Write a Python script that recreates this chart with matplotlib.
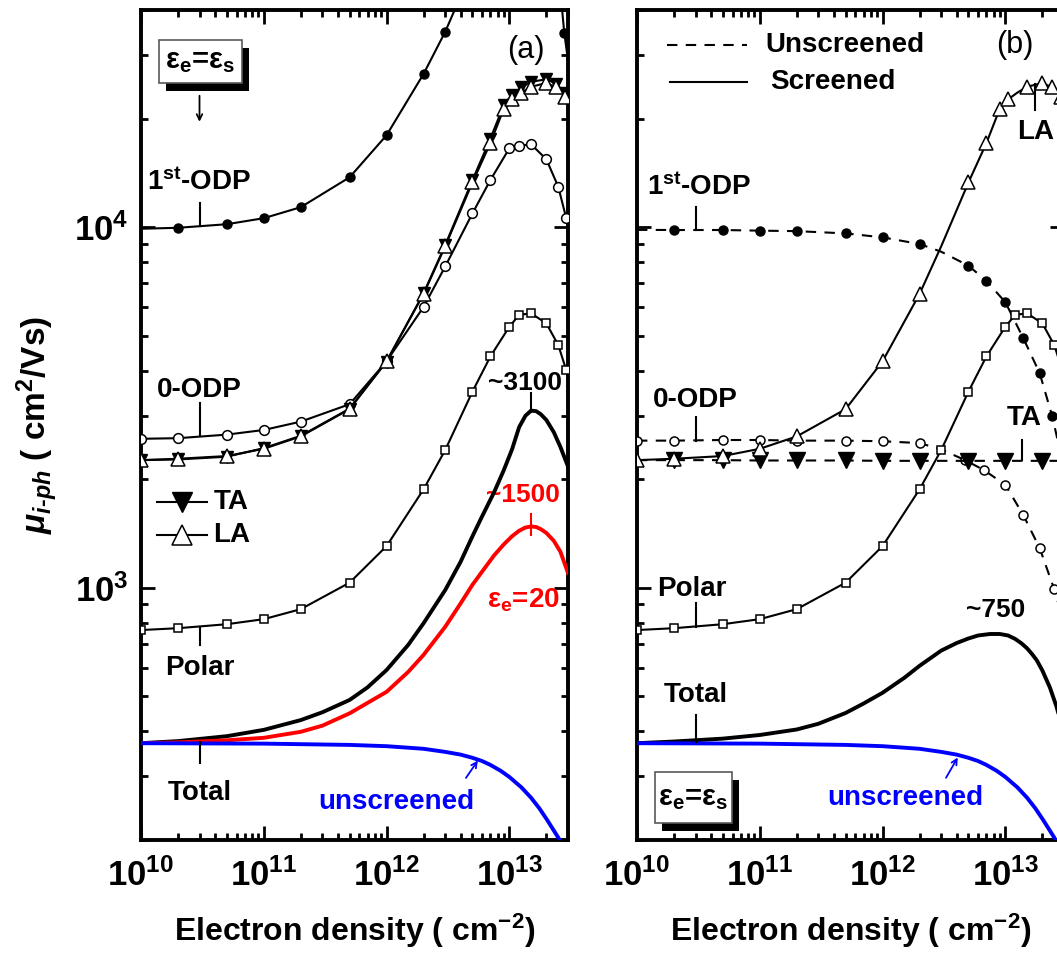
import numpy as np
import matplotlib
matplotlib.use('Agg')
import matplotlib.pyplot as plt
from matplotlib.patches import Rectangle
from matplotlib.ticker import LogLocator, FuncFormatter, NullFormatter

plt.rcParams['font.family'] = ['Liberation Sans', 'DejaVu Sans']
plt.rcParams['font.weight'] = 'bold'
plt.rcParams['axes.labelweight'] = 'bold'
plt.rcParams['mathtext.fontset'] = 'custom'
plt.rcParams['mathtext.rm'] = 'Liberation Sans:bold'
plt.rcParams['mathtext.bf'] = 'Liberation Sans:bold'
plt.rcParams['mathtext.it'] = 'Liberation Sans:bold:italic'
plt.rcParams['mathtext.default'] = 'rm'

# ---- panel (a): screened, eps_e = eps_s ----
n_a_odp1 = [1e10, 2e10, 5e10, 1e11, 2e11, 5e11, 1e12, 2e12, 3e12, 5e12, 1e13, 1.5e13, 2e13, 2.5e13, 2.8e13, 3e13]
mu_a_odp1 = [9900, 9960, 10190, 10590, 11360, 13750, 17990, 26600, 34800, 52000, 80000, 88000, 75000, 52000, 34500, 29000]

n_acoustic = [1e10, 2e10, 5e10, 1e11, 2e11, 5e11, 1e12, 2e12, 3e12, 5e12, 7e12, 9e12, 1.05e13, 1.25e13, 1.5e13, 2e13, 2.4e13, 2.85e13, 3e13]
mu_a_ta = [2260, 2270, 2310, 2440, 2640, 3140, 4240, 6560, 8920, 13500, 17600, 21800, 23300, 24400, 25300, 25700, 25000, 23500, 22800]
mu_la = [2260, 2280, 2320, 2430, 2630, 3130, 4250, 6530, 8850, 13300, 17100, 21300, 22600, 23600, 24500, 25100, 24400, 23000, 22300]

n_std = [1e10, 2e10, 5e10, 1e11, 2e11, 5e11, 1e12, 2e12, 3e12, 5e12, 7e12, 1e13, 1.2e13, 1.5e13, 2e13, 2.5e13, 2.9e13, 3e13]
mu_a_odp0 = [2590, 2600, 2660, 2740, 2890, 3230, 4250, 6010, 7780, 10920, 13510, 16550, 16800, 16980, 15420, 12940, 10600, 10000]
mu_polar = [764, 773, 793, 819, 873, 1034, 1306, 1876, 2410, 3500, 4380, 5300, 5710, 5770, 5410, 4710, 4020, 3850]

n_tot = [1e10, 2e10, 5e10, 1e11, 2e11, 3e11, 5e11, 7e11, 1e12, 1.5e12, 2e12, 3e12, 4e12, 5e12, 6e12, 7.5e12,
         9e12, 1.05e13, 1.2e13, 1.35e13, 1.5e13, 1.65e13, 1.8e13, 2e13, 2.3e13, 2.6e13, 3e13]
mu_tot_a = [371, 376, 388, 404, 430, 452, 489, 530, 592, 695, 798, 986, 1180, 1390, 1580, 1840,
            2120, 2420, 2790, 3000, 3100, 3090, 3030, 2920, 2700, 2460, 2170]
mu_tot_eps20 = [371, 373, 378, 384, 399, 415, 449, 480, 515, 585, 652, 780, 905, 1020, 1110, 1230,
                1320, 1390, 1440, 1470, 1480, 1475, 1455, 1420, 1350, 1260, 1100]

n_blue = [1e10, 1e11, 5e11, 1e12, 2e12, 3e12, 4e12, 5e12, 6e12, 7e12, 8.5e12, 1e13, 1.25e13, 1.5e13,
          1.75e13, 2e13, 2.25e13, 2.5e13, 2.75e13, 3e13]
mu_blue = [371, 370, 367, 364, 358, 351, 345, 338, 331, 323, 311, 299, 280, 262,
           245, 229, 215, 203, 191, 180]

# ---- panel (b): unscreened ODP / TA vs screened ----
n_b_odp1 = [1e10, 2e10, 5e10, 1e11, 2e11, 5e11, 1e12, 2e12, 3e12, 5e12, 7e12, 1e13, 1.4e13, 1.9e13, 2.4e13, 3e13]
mu_b_odp1 = [9830, 9820, 9820, 9780, 9750, 9610, 9370, 8980, 8550, 7820, 7100, 6190, 4920, 3940, 3000, 2150]

n_b_odp0 = [1e10, 2e10, 5e10, 1e11, 2e11, 5e11, 1e12, 2e12, 3e12, 4.7e12, 6.7e12, 1e13, 1.4e13, 1.9e13, 2.5e13, 3e13]
mu_b_odp0 = [2560, 2560, 2570, 2570, 2560, 2560, 2550, 2520, 2420, 2260, 2120, 1930, 1590, 1290, 990, 800]

n_b_ta = [1e10, 2e10, 5e10, 1e11, 2e11, 5e11, 1e12, 2e12, 5e12, 1e13, 2e13, 3e13]
mu_b_ta = [2260, 2260, 2260, 2255, 2255, 2255, 2250, 2250, 2250, 2250, 2250, 2250]

mu_tot_b = [371, 375, 382, 391, 405, 420, 450, 478, 512, 563, 608, 670, 703, 724, 738, 745,
            745, 738, 722, 702, 680, 655, 630, 590, 530, 470, 395]

x_ticks = [1e10, 1e11, 1e12, 1e13]
y_ticks = [1e3, 1e4]

fig = plt.figure(figsize=(10.57, 9.59), dpi=100)
ax_a = fig.add_axes([141 / 1057, 119 / 959, 427 / 1057, 830 / 959])
ax_b = fig.add_axes([637 / 1057, 119 / 959, 427 / 1057, 830 / 959])


def sci(v, pos):
    return r'$10^{%d}$' % int(round(np.log10(v)))


def setup(ax, left_labels):
    ax.set_xscale('log')
    ax.set_yscale('log')
    ax.set_xlim(1e10, 3e13)
    ax.set_ylim(200, 4e4)
    ax.set_xticks(x_ticks)
    ax.set_yticks(y_ticks)
    ax.xaxis.set_minor_locator(LogLocator(10, subs=np.arange(2, 10), numticks=30))
    ax.yaxis.set_minor_locator(LogLocator(10, subs=np.arange(2, 10), numticks=30))
    ax.xaxis.set_major_formatter(FuncFormatter(sci))
    ax.yaxis.set_major_formatter(FuncFormatter(sci))
    ax.xaxis.set_minor_formatter(NullFormatter())
    ax.yaxis.set_minor_formatter(NullFormatter())
    ax.tick_params(which='both', direction='in', top=True, right=True, width=2)
    ax.tick_params(which='major', length=10, labelsize=25, pad=9)
    ax.tick_params(axis='x', which='major', pad=13)
    ax.tick_params(which='minor', length=5)
    ax.tick_params(axis='y', labelleft=left_labels)
    for s in ax.spines.values():
        s.set_linewidth(2.8)
    ax.set_xlabel(r'Electron density ( cm$^{-2}$)', fontsize=23, labelpad=14)


def shadow_box(ax, x0, y0, w, h):
    ax.add_patch(Rectangle((x0 + 0.017, y0 - 0.01), w, h, transform=ax.transAxes,
                           facecolor='black', edgecolor='none', zorder=8))
    ax.add_patch(Rectangle((x0, y0), w, h, transform=ax.transAxes,
                           facecolor='white', edgecolor='0.35', lw=1.2, zorder=9))
    ax.text(x0 + w / 2, y0 + h / 2, r'ε$_e$=ε$_s$', transform=ax.transAxes,
            ha='center', va='center', fontsize=21, zorder=10)


def tick(ax, x, y0, y1, color='black'):
    ax.plot([x, x], [y0, y1], color=color, lw=1.5, zorder=6)


thin = dict(color='black', lw=1.5, zorder=3)
dash = dict(color='black', lw=1.5, zorder=3, dashes=(5, 4))

# ---------------- panel (a) ----------------
ax = ax_a
setup(ax, True)
ax.plot(n_a_odp1, mu_a_odp1, marker='o', ms=6.5, mfc='black', mec='black',
        markevery=list(range(1, 15)), **thin)
ax.plot(n_std, mu_a_odp0, marker='o', ms=7, mfc='white', mec='black', mew=1.1,
        markevery=list(range(0, 17)), **thin)
ax.plot(n_acoustic, mu_a_ta, marker='v', ms=9, mfc='black', mec='black',
        markevery=list(range(0, 18)), **thin)
ax.plot(n_acoustic, mu_la, marker='^', ms=10, mfc='white', mec='black', mew=1.1,
        markevery=list(range(0, 18)), **thin)
ax.plot(n_std, mu_polar, marker='s', ms=6, mfc='white', mec='black', mew=1.1,
        markevery=list(range(0, 17)), **thin)
ax.plot(n_tot, mu_tot_a, color='black', lw=2.8, zorder=4)
ax.plot(n_tot, mu_tot_eps20, color='#ff0000', lw=2.8, zorder=4)
ax.plot(n_blue, mu_blue, color='#0000ff', lw=2.8, zorder=4)

ax.text(1.35e13, 31000, '(a)', fontsize=22, fontweight='normal', ha='center', va='center')
shadow_box(ax, 0.042, 0.912, 0.194, 0.052)
ax.annotate('', xy=(0.137, 0.862), xytext=(0.137, 0.9), xycoords='axes fraction',
            arrowprops=dict(arrowstyle='->', lw=1.3, color='black'))

ax.text(3e10, 13300, r'1$^{st}$-ODP', fontsize=20, ha='center', va='center')
tick(ax, 3e10, 11700, 10050)
ax.text(3e10, 3540, '0-ODP', fontsize=20, ha='center', va='center')
tick(ax, 3e10, 3260, 2650)
ax.text(3e10, 600, 'Polar', fontsize=20, ha='center', va='center')
tick(ax, 3e10, 775, 695)
ax.text(3e10, 270, 'Total', fontsize=20, ha='center', va='center')
tick(ax, 3e10, 373, 327)

ax.text(1.35e13, 3700, '~3100', fontsize=19, ha='center', va='center')
tick(ax, 1.5e13, 3480, 3080)
ax.text(1.3e13, 1810, '~1500', fontsize=19, ha='center', va='center', color='#ff0000')
tick(ax, 1.5e13, 1600, 1400, color='#ff0000')
ax.text(1.3e13, 925, r'ε$_e$=20', fontsize=20, ha='center', va='center', color='#ff0000')

ax.plot([1.35e10, 3.45e10], [1730, 1730], color='black', lw=1.5)
ax.plot([2.16e10], [1730], marker='v', ms=14, mfc='black', mec='black', ls='none')
ax.text(3.9e10, 1730, 'TA', fontsize=20, ha='left', va='center')
ax.plot([1.35e10, 3.45e10], [1400, 1400], color='black', lw=1.5)
ax.plot([2.16e10], [1400], marker='^', ms=14, mfc='white', mec='black', mew=1.1, ls='none')
ax.text(3.9e10, 1400, 'LA', fontsize=20, ha='left', va='center')

ax.text(1.2e12, 255, 'unscreened', fontsize=20, ha='center', va='center', color='#0000ff')
ax.annotate('', xy=(5.7e12, 337), xytext=(4.3e12, 293),
            arrowprops=dict(arrowstyle='->', lw=1.3, color='#0000ff'))

ax.set_ylabel(r'$\mathit{\mu_{i\text{-}ph}}$ ( cm$^{2}$/Vs)', fontsize=24, labelpad=10)

# ---------------- panel (b) ----------------
ax = ax_b
setup(ax, False)
ax.plot(n_b_odp1, mu_b_odp1, marker='o', ms=6.5, mfc='black', mec='black',
        markevery=[1, 2, 3, 4, 5, 6, 7, 9, 10, 11, 12, 13, 14], **dash)
ax.plot(n_b_odp0, mu_b_odp0, marker='o', ms=6.5, mfc='white', mec='black', mew=1.1,
        markevery=[0, 1, 2, 3, 4, 5, 6, 7, 9, 10, 11, 12, 13, 14], **dash)
ax.plot(n_b_ta, mu_b_ta, marker='v', ms=11, mfc='black', mec='black',
        markevery=list(range(1, 11)), **dash)
ax.plot(n_acoustic, mu_la, marker='^', ms=10, mfc='white', mec='black', mew=1.1,
        markevery=[0, 1, 2, 3, 4, 5, 6, 7, 9, 10, 11, 12, 14, 15, 16, 17], **thin)
ax.plot(n_std, mu_polar, marker='s', ms=6, mfc='white', mec='black', mew=1.1,
        markevery=list(range(0, 17)), **thin)
ax.plot(n_tot, mu_tot_b, color='black', lw=2.8, zorder=4)
ax.plot(n_blue, mu_blue, color='#0000ff', lw=2.8, zorder=4)

ax.plot([1.77e10, 7.9e10], [32000, 32000], **dash)
ax.text(1.12e11, 32000, 'Unscreened', fontsize=20, ha='left', va='center')
ax.plot([1.87e10, 7.9e10], [25250, 25250], **thin)
ax.text(1.21e11, 25250, 'Screened', fontsize=20, ha='left', va='center')
ax.text(1.2e13, 32000, '(b)', fontsize=22, fontweight='normal', ha='center', va='center')

ax.text(3.2e10, 12900, r'1$^{st}$-ODP', fontsize=20, ha='center', va='center')
tick(ax, 3e10, 11370, 9820)
ax.text(3e10, 3320, '0-ODP', fontsize=20, ha='center', va='center')
tick(ax, 3e10, 2980, 2560)
ax.text(1.43e13, 2960, 'TA', fontsize=20, ha='center', va='center')
tick(ax, 1.37e13, 2570, 2260)
ax.text(1.75e13, 18400, 'LA', fontsize=20, ha='center', va='center')
tick(ax, 1.73e13, 24900, 21100)
ax.text(2.8e10, 996, 'Polar', fontsize=20, ha='center', va='center')
tick(ax, 3e10, 908, 779)
ax.text(3e10, 505, 'Total', fontsize=20, ha='center', va='center')
tick(ax, 3e10, 444, 373)
ax.text(8.3e12, 868, '~750', fontsize=19, ha='center', va='center')

shadow_box(ax, 0.042, 0.0205, 0.18, 0.0614)
ax.text(1.54e12, 261, 'unscreened', fontsize=20, ha='center', va='center', color='#0000ff')
ax.annotate('', xy=(4.2e12, 344), xytext=(3.2e12, 293),
            arrowprops=dict(arrowstyle='->', lw=1.3, color='#0000ff'))

fig.savefig('out.png', dpi=100)
